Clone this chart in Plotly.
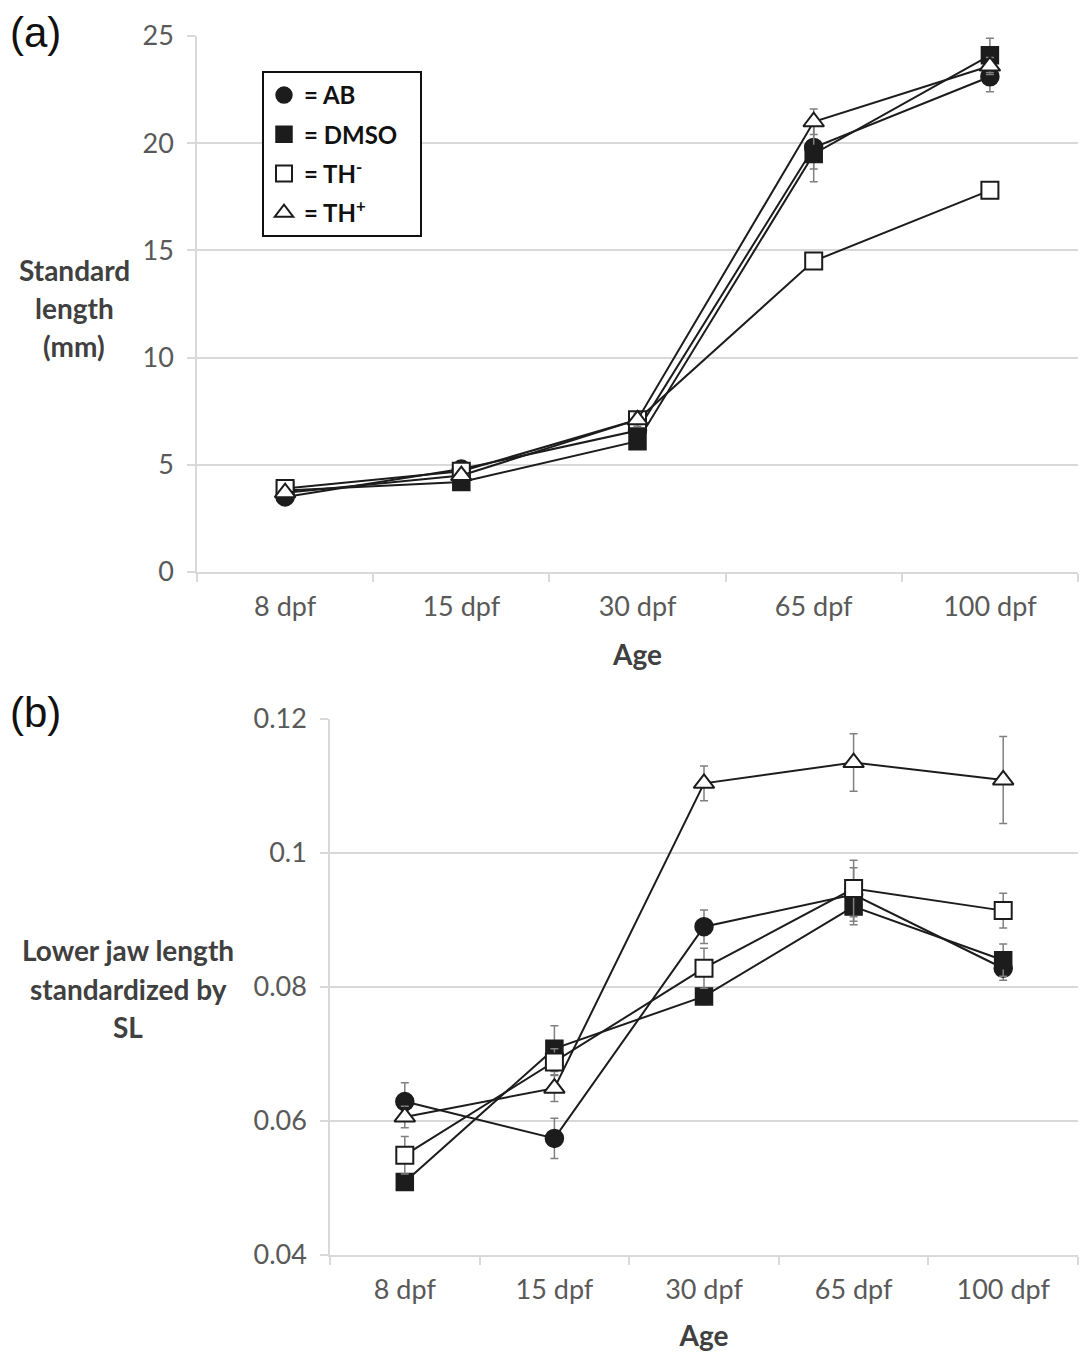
import plotly.graph_objects as go

categories = ["8 dpf", "15 dpf", "30 dpf", "65 dpf", "100 dpf"]

# Panel (a): standard length (mm)
sl_ab = [3.5, 4.8, 6.6, 19.8, 23.1]
sl_ab_err = [0.1, 0.2, 0.3, 1.0, 0.7]
sl_dmso = [3.8, 4.2, 6.1, 19.5, 24.1]
sl_dmso_err = [0.1, 0.2, 0.3, 1.3, 0.8]
sl_thm = [3.9, 4.7, 7.1, 14.5, 17.8]
sl_thm_err = [0.1, 0.2, 0.3, 0.3, 0.3]
sl_thp = [3.7, 4.5, 7.1, 21.0, 23.6]
sl_thp_err = [0.1, 0.2, 0.3, 0.6, 0.4]

# Panel (b): lower jaw length standardized by SL
jaw_ab = [0.0629, 0.0574, 0.0890, 0.0938, 0.0828]
jaw_ab_err = [0.0028, 0.0030, 0.0025, 0.0040, 0.0018]
jaw_dmso = [0.0509, 0.0708, 0.0786, 0.0920, 0.0840]
jaw_dmso_err = [0.0010, 0.0034, 0.0012, 0.0027, 0.0024]
jaw_thm = [0.0549, 0.0688, 0.0828, 0.0947, 0.0914]
jaw_thm_err = [0.0028, 0.0020, 0.0030, 0.0042, 0.0026]
jaw_thp = [0.0606, 0.0649, 0.1104, 0.1135, 0.1109]
jaw_thp_err = [0.0016, 0.0020, 0.0026, 0.0043, 0.0065]

series_names = ["AB", "DMSO", "TH<sup>-</sup>", "TH<sup>+</sup>"]
yticks_a = [0, 5, 10, 15, 20, 25]
yticks_b = [0.04, 0.06, 0.08, 0.1, 0.12]
yticklabels_b = ["0.04", "0.06", "0.08", "0.1", "0.12"]

W, H = 1081, 1353
INK = "#1c1c1c"
GRID = "#d9d9d9"
TICKC = "#595959"
TITLEC = "#404040"
FONT = "Lato"

markers = [
    dict(symbol="circle", size=18, color=INK, line=dict(color=INK, width=1.5)),
    dict(symbol="square", size=17, color=INK, line=dict(color=INK, width=1.5)),
    dict(symbol="square", size=17, color="white", line=dict(color=INK, width=2)),
    dict(symbol="triangle-up", size=18, color="white", line=dict(color=INK, width=2)),
]

fig = go.Figure()

panel_a = [(sl_ab, sl_ab_err), (sl_dmso, sl_dmso_err), (sl_thm, sl_thm_err), (sl_thp, sl_thp_err)]
panel_b = [(jaw_ab, jaw_ab_err), (jaw_dmso, jaw_dmso_err), (jaw_thm, jaw_thm_err), (jaw_thp, jaw_thp_err)]

for i, (vals, err) in enumerate(panel_a):
    fig.add_trace(go.Scatter(
        x=categories, y=vals, mode="lines+markers", xaxis="x", yaxis="y",
        line=dict(color=INK, width=2), marker=markers[i], showlegend=False,
        error_y=dict(type="data", array=err, color="#808080", thickness=1.5, width=4),
    ))

for i, (vals, err) in enumerate(panel_b):
    fig.add_trace(go.Scatter(
        x=categories, y=vals, mode="lines+markers", xaxis="x2", yaxis="y2",
        line=dict(color=INK, width=2), marker=markers[i], showlegend=False,
        error_y=dict(type="data", array=err, color="#808080", thickness=1.5, width=4),
    ))

# legend entries (symbols only)
for i, nm in enumerate(series_names):
    fig.add_trace(go.Scatter(
        x=[None], y=[None], mode="markers", xaxis="x", yaxis="y",
        marker=markers[i], name="= " + nm + "\u00a0\u00a0\u00a0", legendgroup=nm, showlegend=True,
    ))

def px_x(p):
    return p / W

def px_y(p):
    return 1 - p / H

xaxis_common = dict(
    type="category", tickson="boundaries", ticks="outside", ticklen=8,
    tickcolor=GRID, tickwidth=1.5, showgrid=False, showline=True, linecolor=GRID,
    linewidth=1.5, tickfont=dict(family=FONT, size=27, color=TICKC),
    ticklabelstandoff=10, automargin=False, fixedrange=True,
    range=[-0.5, len(categories) - 0.5],
)
yaxis_common = dict(
    ticks="outside", ticklen=8, tickcolor=GRID, tickwidth=1.5,
    showgrid=True, gridcolor=GRID, gridwidth=1.5, showline=True, linecolor=GRID,
    linewidth=1.5, zeroline=False, tickfont=dict(family=FONT, size=27, color=TICKC),
    ticklabelstandoff=8, automargin=False, fixedrange=True,
)

fig.update_layout(
    width=W, height=H, margin=dict(l=0, r=0, t=0, b=0),
    paper_bgcolor="white", plot_bgcolor="white",
    font=dict(family=FONT),
    xaxis=dict(xaxis_common, domain=[px_x(197), px_x(1078)], anchor="y",
               categoryorder="array", categoryarray=categories,
               title=dict(text="<b>Age</b>", font=dict(family=FONT, size=28, color=TITLEC), standoff=24)),
    yaxis=dict(yaxis_common, domain=[px_y(572), px_y(36)], anchor="x",
               range=[0, 25], tickvals=yticks_a),
    xaxis2=dict(xaxis_common, domain=[px_x(330), px_x(1078)], anchor="y2",
                categoryorder="array", categoryarray=categories,
                title=dict(text="<b>Age</b>", font=dict(family=FONT, size=28, color=TITLEC), standoff=22)),
    yaxis2=dict(yaxis_common, domain=[px_y(1255), px_y(719)], anchor="x2",
                range=[0.04, 0.12], tickvals=yticks_b, ticktext=yticklabels_b),
    legend=dict(
        x=px_x(262), y=px_y(71), xanchor="left", yanchor="top",
        bordercolor="#111111", borderwidth=2, bgcolor="white",
        font=dict(family=FONT, size=24, color="#111111", weight="bold"),
        tracegroupgap=5, itemsizing="trace",
    ),
)

ann = []
ann.append(dict(text="(a)", x=px_x(8), y=px_y(32), xref="paper", yref="paper",
                xanchor="left", yanchor="middle", showarrow=False,
                font=dict(family="Liberation Sans", size=42, color="#111111")))
ann.append(dict(text="(b)", x=px_x(8), y=px_y(712), xref="paper", yref="paper",
                xanchor="left", yanchor="middle", showarrow=False,
                font=dict(family="Liberation Sans", size=42, color="#111111")))
for txt, yc in [("Standard", 270), ("length", 308), ("(mm)", 346)]:
    ann.append(dict(text="<b>" + txt + "</b>", x=px_x(74), y=px_y(yc), xref="paper", yref="paper",
                    xanchor="center", yanchor="middle", showarrow=False,
                    font=dict(family=FONT, size=28, color=TITLEC)))
for txt, yc in [("Lower jaw length", 950), ("standardized by", 989), ("SL", 1027)]:
    ann.append(dict(text="<b>" + txt + "</b>", x=px_x(128), y=px_y(yc), xref="paper", yref="paper",
                    xanchor="center", yanchor="middle", showarrow=False,
                    font=dict(family=FONT, size=28, color=TITLEC)))
fig.update_layout(annotations=ann)

fig.write_html("out.html")
